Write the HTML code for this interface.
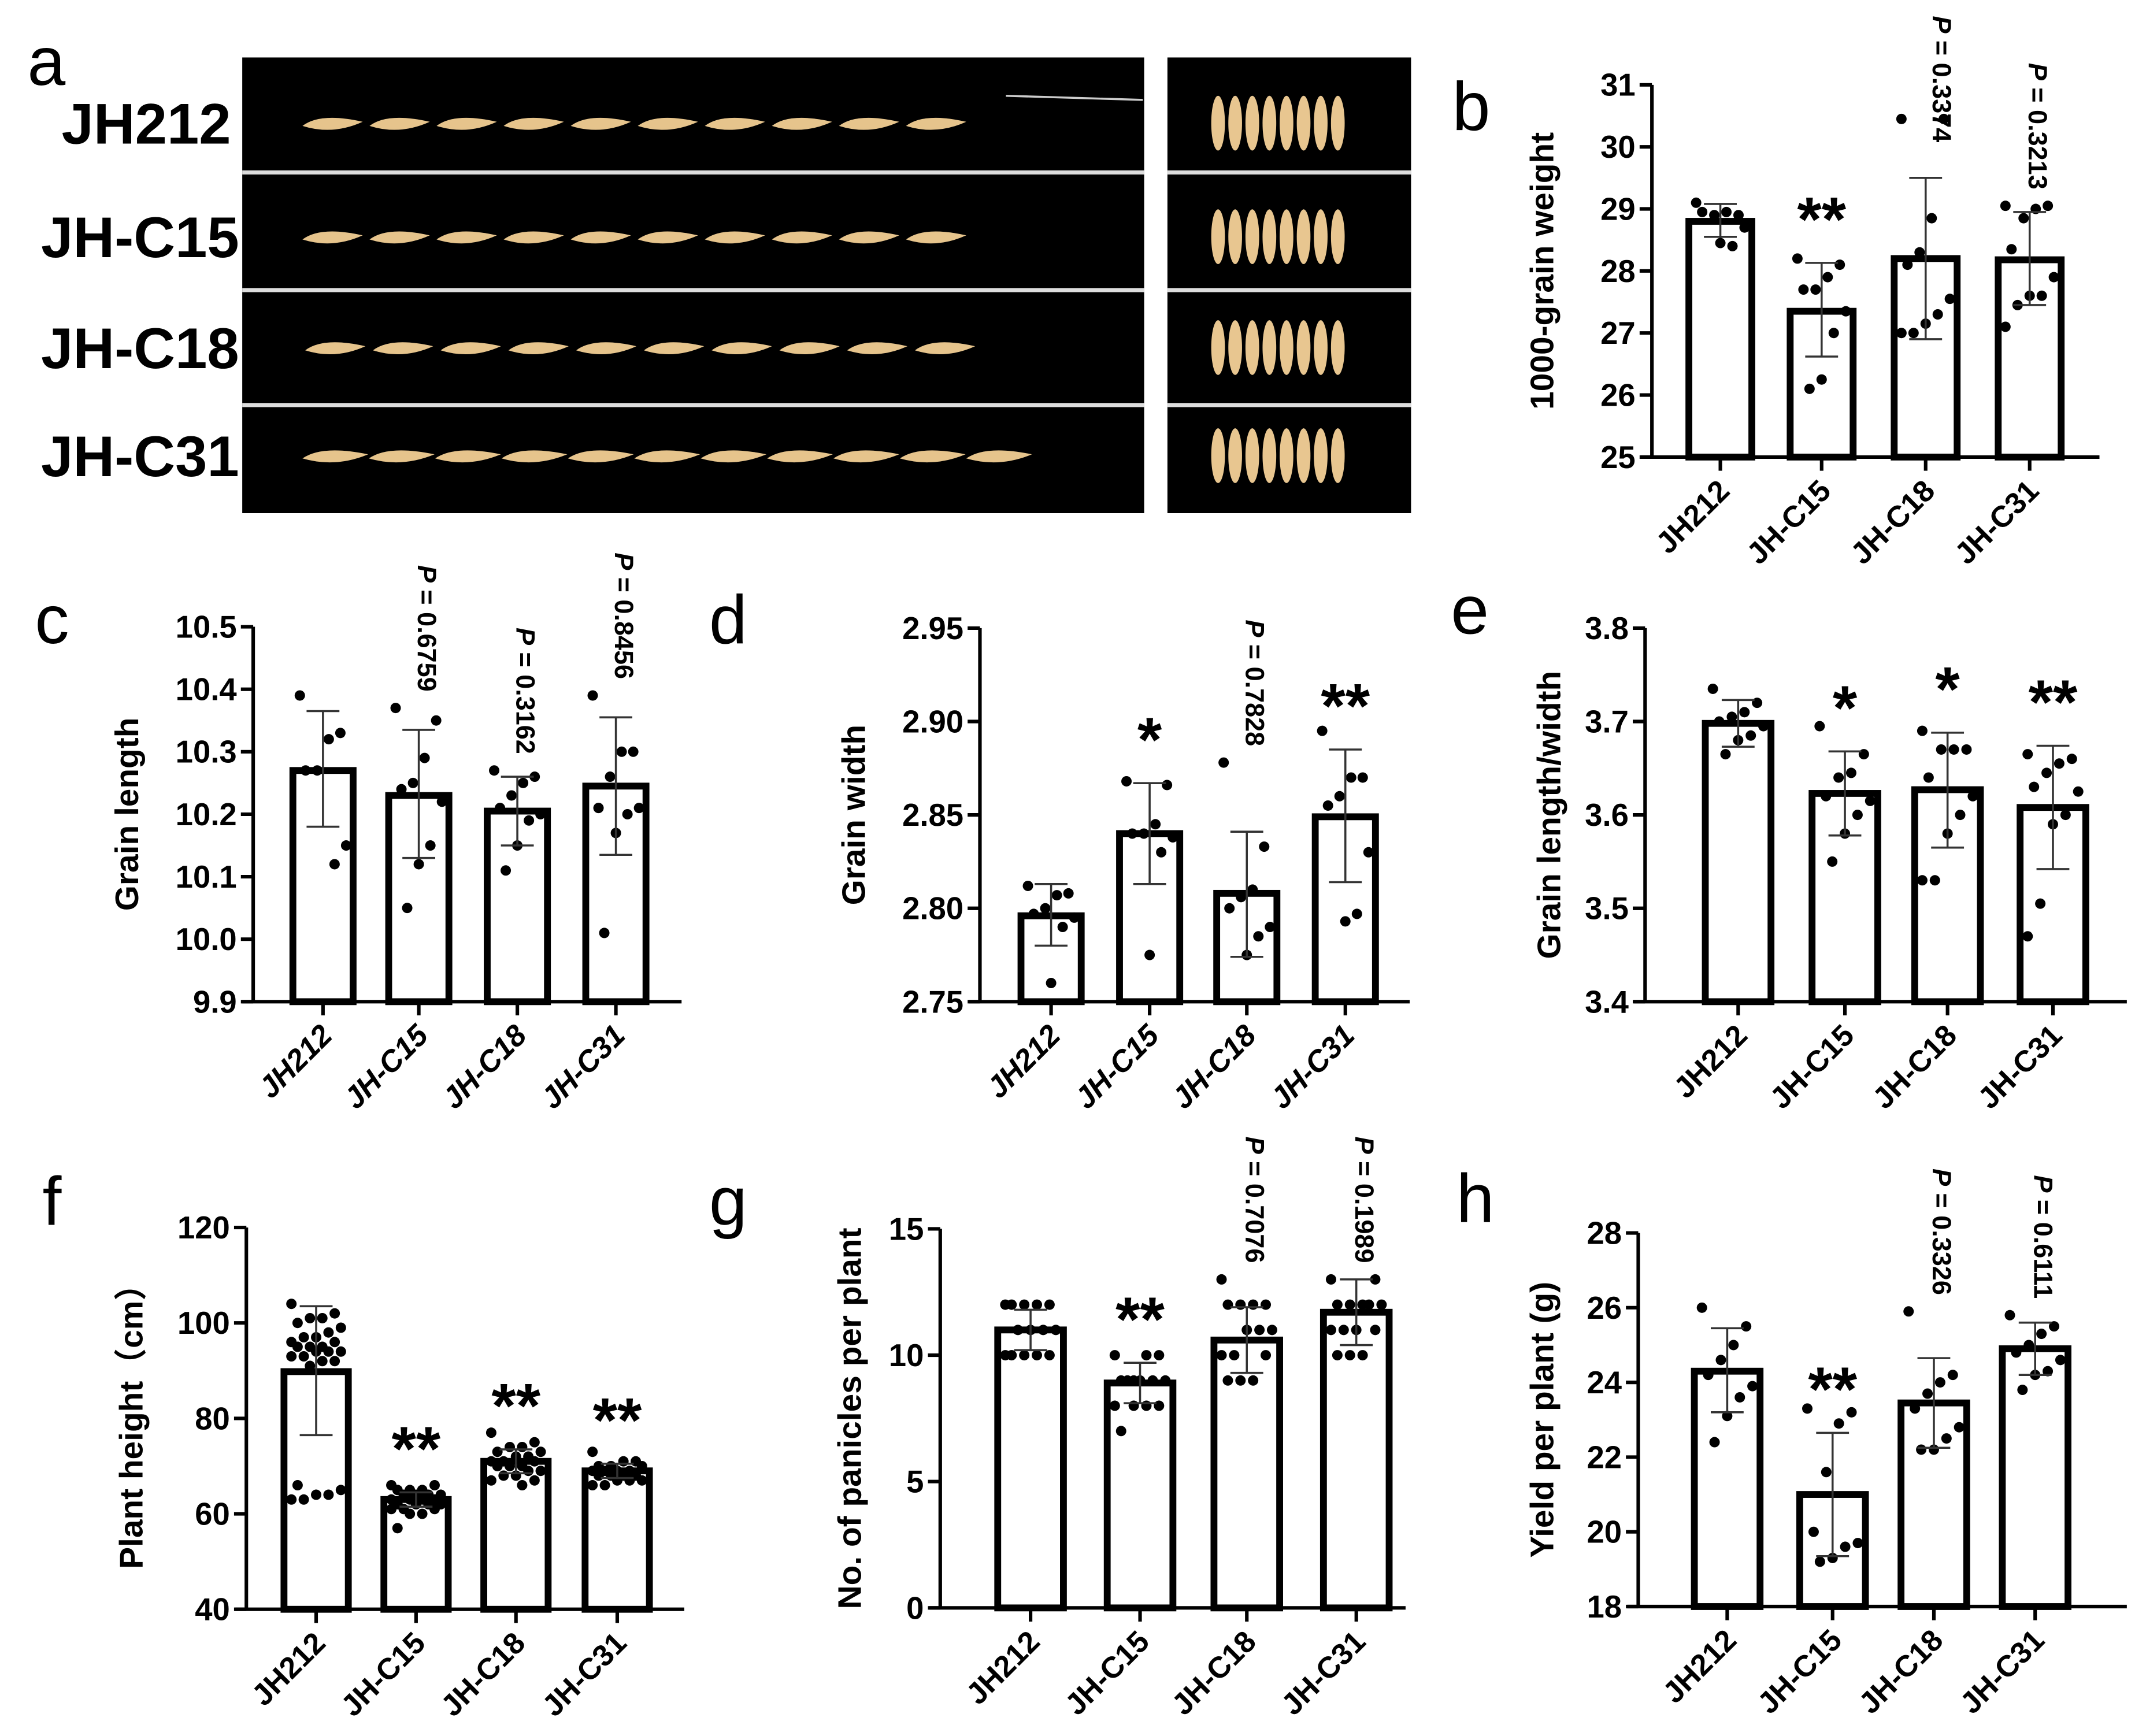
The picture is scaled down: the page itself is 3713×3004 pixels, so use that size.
<!DOCTYPE html>
<html><head><meta charset="utf-8"><style>
html,body{margin:0;padding:0;background:#fff;}
svg{display:block;}
text{font-family:"Liberation Sans","Noto Sans CJK SC",sans-serif;}
</style></head><body>
<svg id="fig" width="3713" height="3004" viewBox="0 0 1568 1268.6" preserveAspectRatio="none" xmlns="http://www.w3.org/2000/svg">
<rect width="1568" height="1268.6" fill="#fff"/>
<g id="photo"></g>
<g id="charts"></g>
</svg>
<script>
// ---------- chart data ----------
const categories = ["JH212","JH-C15","JH-C18","JH-C31"];

const bMeans = [28.8, 27.35, 28.2, 28.18];
const bLow = [28.55, 26.62, 26.9, 27.45];
const bHigh = [29.08, 28.13, 29.5, 28.95];
const bPts = [[29.1,28.9,28.95,28.9,28.95,28.7,28.4,28.45],[28.2,28.1,27.9,27.7,27.7,27.35,27.0,26.25,26.1],[30.45,30.45,28.85,28.3,28.1,27.55,27.3,27.15,27.0,27.0],[29.05,29.05,29.0,28.85,28.35,27.9,27.6,27.6,27.45,27.1]];
const bAnno = ["","**","P = 0.3374","P = 0.3213"];
const bTicks = [25,26,27,28,29,30,31];

const cMeans = [10.27,10.23,10.205,10.245];
const cLow = [10.18,10.13,10.15,10.135];
const cHigh = [10.365,10.335,10.26,10.355];
const cPts = [[10.39,10.33,10.32,10.27,10.27,10.15,10.12],[10.37,10.35,10.29,10.25,10.24,10.22,10.15,10.12,10.05],[10.27,10.26,10.25,10.23,10.21,10.2,10.19,10.15,10.11],[10.39,10.3,10.3,10.26,10.21,10.21,10.2,10.17,10.01]];
const cAnno = ["","P = 0.6759","P = 0.3162","P = 0.8456"];
const cTicks = [9.9,10.0,10.1,10.2,10.3,10.4,10.5];

const dMeans = [2.796,2.840,2.808,2.849];
const dLow = [2.780,2.813,2.774,2.814];
const dHigh = [2.813,2.867,2.841,2.885];
const dPts = [[2.812,2.808,2.807,2.8,2.797,2.795,2.79,2.76],[2.868,2.866,2.845,2.84,2.84,2.838,2.83,2.775],[2.878,2.833,2.81,2.806,2.8,2.79,2.785,2.775],[2.895,2.87,2.87,2.86,2.855,2.83,2.797,2.793]];
const dAnno = ["","*","P = 0.7828","**"];
const dTicks = [2.75,2.80,2.85,2.90,2.95];

const eMeans = [3.698,3.623,3.627,3.608];
const eLow = [3.673,3.578,3.565,3.542];
const eHigh = [3.723,3.668,3.688,3.674];
const ePts = [[3.735,3.72,3.71,3.705,3.7,3.695,3.685,3.68,3.665],[3.695,3.665,3.645,3.64,3.62,3.615,3.6,3.58,3.55],[3.69,3.67,3.67,3.67,3.64,3.62,3.6,3.58,3.53,3.53],[3.665,3.66,3.655,3.645,3.63,3.625,3.6,3.59,3.505,3.47]];
const eAnno = ["","*","*","**"];
const eTicks = [3.4,3.5,3.6,3.7,3.8];

const fMeans = [89.8,63.0,71.0,69.0];
const fLow = [76.5,61.5,68.5,67.5];
const fHigh = [103.5,64.5,73.5,70.5];
const fPts = [[104,102,101,101,100,99,98,97,97,96,96,95,95,95,94,94,94,93,93,92,92,91,66,65,64,64,63,63],[66,66,65,65,65,64,64,64,64,63,63,63,63,62,62,62,62,61,61,61,60,60,57],[77,75,74,74,73,73,72,72,71,71,71,70,70,70,69,69,68,68,67,67,66],[73,71,71,70,70,70,69,69,69,69,68,68,68,68,67,67,67,66,66]];
const fAnno = ["","**","**","**"];
const fTicks = [40,60,80,100,120];

const gMeans = [11.0,8.9,10.6,11.7];
const gLow = [10.2,8.1,9.3,10.4];
const gHigh = [11.8,9.7,11.9,13.0];
const gPts = [[12,12,12,12,12,11,11,11,11,10,10,10,10,10],[10,10,10,9,9,9,9,9,9,8,8,8,8,7],[13,12,12,12,12,11,11,11,10,10,10,9,9,9],[13,13,12,12,12,12,12,11,11,11,11,10,10,10]];
const gAnno = ["","**","P = 0.7076","P = 0.1989"];
const gTicks = [0,5,10,15];

const hMeans = [24.3,21.0,23.45,24.9];
const hLow = [23.2,19.35,22.25,24.2];
const hHigh = [25.45,22.65,24.65,25.6];
const hPts = [[26.0,25.5,25.0,24.6,24.2,23.9,23.6,23.1,22.4],[23.3,23.2,22.9,21.6,20.0,19.7,19.6,19.3,19.2],[25.9,24.2,24.0,23.7,23.3,22.8,22.5,22.2,22.2],[25.8,25.5,25.3,25.0,24.8,24.6,24.3,24.2,23.8]];
const hAnno = ["","**","P = 0.3326","P = 0.6111"];
const hTicks = [18,20,22,24,26,28];

// ---------- layout (positions only) ----------
const NS = "http://www.w3.org/2000/svg";
const charts = document.getElementById('charts');
function mk(tag, attrs, parent){
  const e = document.createElementNS(NS, tag);
  for (const k in attrs) e.setAttribute(k, attrs[k]);
  (parent||charts).appendChild(e);
  return e;
}

function panel(id, letter, lx, ly, title, means, low, high, pts, anno, ticks, L){
  const g = mk('g', {});
  
  
  const y0 = ticks[0], y1 = ticks[ticks.length-1];
  const yS = v => L.yb - (v - y0) / (y1 - y0) * (L.yb - L.yt);
  const xS = i => L.cx[i];
  const lt = mk('text', {x:lx, y:ly, 'font-size':50, 'text-anchor':'middle'}, g);
  lt.textContent = letter;
  
  
  const yt = mk('text', {x:0, y:0, 'font-size':L.tf||24, 'font-weight':'bold', 'text-anchor':'middle', transform:`translate(${L.ax - L.td},${(L.yt+L.yb)/2}) rotate(-90)`}, g);
  yt.textContent = title;
  
  
  means.forEach((m, i) => {
    const r = mk('rect', {x:xS(i)-L.hw, y:yS(m), width:2*L.hw, height:L.yb - yS(m), fill:'#fff', stroke:'#000', 'stroke-width':5}, g);
    
    
  });
  pts.forEach((arr, i) => {
    arr.forEach((v, j) => {
      const off = (((j*7) % 9) - 4) * (L.hw/5.2);
      const c = mk('circle', {cx:xS(i)+off, cy:yS(v), r:3.8, fill:'#000'}, g);
      
      
    });
  });
  means.forEach((m, i) => {
    const eg = mk('g', {stroke:'#333', 'stroke-width':1.5}, g);
    
    
    mk('line', {x1:xS(i), x2:xS(i), y1:yS(low[i]), y2:yS(high[i])}, eg);
    mk('line', {x1:xS(i)-12, x2:xS(i)+12, y1:yS(low[i]), y2:yS(low[i])}, eg);
    mk('line', {x1:xS(i)-12, x2:xS(i)+12, y1:yS(high[i]), y2:yS(high[i])}, eg);
  });
  const ya = mk('line', {x1:L.ax, x2:L.ax, y1:L.yt, y2:L.yb, stroke:'#000', 'stroke-width':2.6}, g);
  
  
  const xa = mk('line', {x1:L.ax-8, x2:L.xe, y1:L.yb, y2:L.yb, stroke:'#000', 'stroke-width':2.6}, g);
  
  
  ticks.forEach(t => {
    mk('line', {x1:L.ax-9, x2:L.ax, y1:yS(t), y2:yS(t), stroke:'#000', 'stroke-width':2.6}, g);
    const tl = mk('text', {x:L.ax-12, y:yS(t)+8, 'font-size':23, 'font-weight':'bold', 'text-anchor':'end'}, g);
    tl.textContent = L.fmt(t);
    
    
  });
  categories.forEach((c, i) => {
    mk('line', {x1:xS(i), x2:xS(i), y1:L.yb, y2:L.yb+10, stroke:'#000', 'stroke-width':2.6}, g);
    const xl = mk('text', {x:0, y:0, 'font-size':22, 'font-weight':'bold', 'font-style':L.it?'italic':'normal', 'text-anchor':'end', transform:`translate(${xS(i)+8},${L.yb+26}) rotate(-45)`}, g);
    xl.textContent = c;
    
    
  });
  anno.forEach((a, i) => {
    if (!a) return;
    if (a[0] === '*') {
      const s = mk('text', {x:xS(i), y:yS(high[i]) - 42 + 26, 'font-size':46, 'font-weight':'bold', 'text-anchor':'middle'}, g);
      s.textContent = a;
      
      
    } else {
      const top = Math.min(yS(high[i]), ...pts[i].map(yS));
      const endY = Math.max(top - 12, 104);
      const p = mk('text', {x:0, y:0, 'font-size':19, 'font-weight':'bold', 'text-anchor':'end', 'dominant-baseline':'central', transform:`translate(${xS(i)+(endY > top - 12 ? 12 : 6)},${endY}) rotate(90)`}, g);
      const t1 = mk('tspan', {'font-style':'italic'}, p); t1.textContent = 'P';
      const t2 = mk('tspan', {}, p); t2.textContent = a.slice(1);
      
      
    }
  });
}

const f0 = v => String(v), f1 = v => v.toFixed(1), f2 = v => v.toFixed(2);
panel('b','b',1075,95,'1000-grain weight',bMeans,bLow,bHigh,bPts,bAnno,bTicks,{ax:1207,xe:1534,yt:62,yb:334,cx:[1257,1331,1407,1483],hw:23,td:72,fmt:f0});
panel('c','c',38,470,'Grain length',cMeans,cLow,cHigh,cPts,cAnno,cTicks,{ax:185,xe:498,yt:458,yb:732,cx:[236,306,378,450],hw:22,td:84,fmt:f1,it:true});
panel('d','d',532,470,'Grain width',dMeans,dLow,dHigh,dPts,dAnno,dTicks,{ax:716,xe:1030,yt:459,yb:732,cx:[768,840,911,983],hw:22,td:84,fmt:f2,it:true});
panel('e','e',1074,463,'Grain length/width',eMeans,eLow,eHigh,ePts,eAnno,eTicks,{ax:1202,xe:1554,yt:459,yb:732,cx:[1270,1348,1423,1500],hw:24,td:62,fmt:f1});
panel('f','f',38,895,'Plant height（cm）',fMeans,fLow,fHigh,fPts,fAnno,fTicks,{ax:180,xe:500,yt:897,yb:1176,cx:[231,304,377,451],hw:23.5,td:76,fmt:f0});
panel('g','g',532,895,'No. of panicles per plant',gMeans,gLow,gHigh,gPts,gAnno,gTicks,{ax:687,xe:1027,yt:898,yb:1175,cx:[753,833,911,991],hw:24,td:58,fmt:f0});
panel('h','h',1078,893,'Yield per plant (g)',hMeans,hLow,hHigh,hPts,hAnno,hTicks,{ax:1197,xe:1554,yt:901,yb:1174,cx:[1262,1339,1413,1487],hw:24,td:62,fmt:f0});

// ---------- panel a photo ----------
const photo = document.getElementById('photo');
const pa = mk('text', {x:20, y:62, 'font-size':50}, photo);
pa.textContent = 'a';


const bl = mk('rect', {x:177, y:42, width:659, height:333, fill:'#000'}, photo);


const br = mk('rect', {x:853, y:42, width:178, height:333, fill:'#000'}, photo);


[126,212,296].forEach(y => {
  mk('rect', {x:177, y:y-1.5, width:659, height:3, fill:'#ddd'}, photo);
  mk('rect', {x:853, y:y-1.5, width:178, height:3, fill:'#ddd'}, photo);
});
mk('line', {x1:735, y1:70, x2:835, y2:73, stroke:'#ccc', 'stroke-width':1.5}, photo);
const rows = [{n:'JH212', y:90, lx:45, x0:243, w:44, cnt:10, sp:49},{n:'JH-C15', y:173, lx:30, x0:243, w:44, cnt:10, sp:49},{n:'JH-C18', y:254, lx:30, x0:245, w:44, cnt:10, sp:49.5},{n:'JH-C31', y:333, lx:30, x0:245, w:48, cnt:11, sp:48.5}];
rows.forEach(r => {
  const t = mk('text', {x:r.lx, y:r.y+15, 'font-size':42, 'font-weight':'bold'}, photo);
  t.textContent = r.n;
  
  
  for (let i = 0; i < r.cnt; i++) {
    const cx = r.x0 + i*r.sp, h = r.w/2;
    mk('path', {d:`M${cx-h},${r.y+2} Q${cx-h*0.4},${r.y-8} ${cx+h},${r.y-1} Q${cx},${r.y+9} ${cx-h},${r.y+2}Z`, fill:'#e6c48c'}, photo);
  }
  for (let i = 0; i < 8; i++) {
    mk('ellipse', {cx:890 + i*12.5, cy:r.y, rx:5, ry:20, fill:'#e8c690'}, photo);
  }
});
</script>
</body></html>
